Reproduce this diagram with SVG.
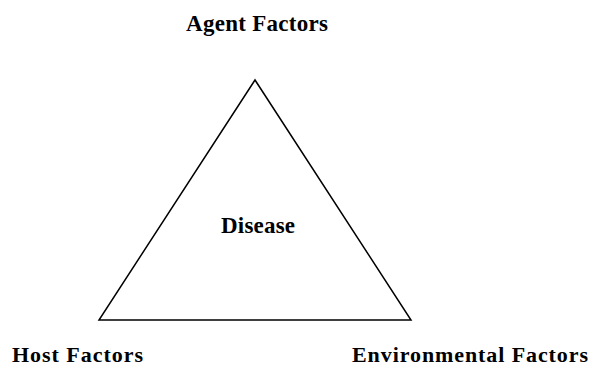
<svg xmlns="http://www.w3.org/2000/svg" width="591" height="368" viewBox="0 0 591 368">
<style>
.lbl{font-family:"Liberation Serif","Times New Roman",serif;font-weight:bold;font-size:23px;fill:#000}
.low{font-size:22px}
.edge{fill:none;stroke:#000;stroke-width:1.5;stroke-linejoin:miter}
</style>
<rect width="591" height="368" fill="#fff"/>
<g id="connectors">
<polygon class="edge" points="255,80 99,320 411,320"/>
</g>
<g id="agent"><text class="lbl" x="186" y="31" textLength="142" lengthAdjust="spacing">Agent Factors</text></g>
<g id="disease"><text class="lbl" x="221" y="233" textLength="74" lengthAdjust="spacing">Disease</text></g>
<g id="host"><text class="lbl low" x="12" y="362" textLength="131" lengthAdjust="spacing">Host Factors</text></g>
<g id="environment"><text class="lbl low" x="352" y="362" textLength="236" lengthAdjust="spacing">Environmental Factors</text></g>
</svg>
